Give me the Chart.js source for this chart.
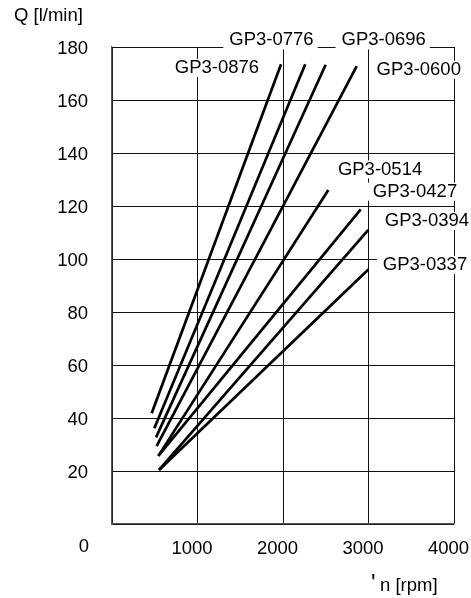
<!DOCTYPE html>
<html>
<head>
<meta charset="utf-8">
<script src="https://cdn.jsdelivr.net/npm/chart.js@4"></script>
<style>
  html, body { margin: 0; padding: 0; background: #fff; }
  #wrap { width: 471px; height: 598px; position: relative; }
</style>
</head>
<body>
<div id="wrap"><canvas id="pumpChart"></canvas></div>
<script>
// pump models, flow Q [l/min] against speed n [rpm]
const models = ["GP3-0876", "GP3-0776", "GP3-0696", "GP3-0600", "GP3-0514", "GP3-0427", "GP3-0394", "GP3-0337"];
const startRpm = [464, 495, 515, 522, 542, 542, 550, 550];
const startFlow = [41.8, 36.1, 32.7, 29.4, 25.7, 25.7, 20.4, 20.4];
const endRpm = [1977, 2260, 2499, 2862, 2530, 2909, 2998, 2998];
const endFlow = [173.5, 173.5, 173.3, 172.8, 126, 118.7, 111, 96];

const xTicks = [0, 1000, 2000, 3000, 4000];
const yTicks = [0, 20, 40, 60, 80, 100, 120, 140, 160, 180];

// where each model name sits, in chart units (rpm, l/min)
const nameAt = [
  [1228, 172.1], [1865, 182.5], [3178, 182.5], [3588, 171.4],
  [3135, 133.8], [3544, 125.4], [3684, 114.3], [3661, 97.7]
];

const FONT = "'Liberation Sans', Arial, Helvetica, sans-serif";

const datasets = models.map((name, i) => ({
  label: name,
  data: [
    { x: startRpm[i], y: startFlow[i] },
    { x: endRpm[i], y: endFlow[i] },
  ],
  borderColor: "#000",
  borderWidth: 2.7,
  pointRadius: 0,
  fill: false,
}));

// model names with white boxes behind them, plus axis titles
const labelsPlugin = {
  id: "modelLabels",
  afterDraw(chart) {
    const c = chart.ctx;
    const xs = chart.scales.x;
    const ys = chart.scales.y;
    c.save();
    c.font = "18.5px " + FONT;
    c.textBaseline = "middle";
    c.textAlign = "center";
    models.forEach((name, i) => {
      const px = xs.getPixelForValue(nameAt[i][0]);
      const py = ys.getPixelForValue(nameAt[i][1]);
      const w = c.measureText(name).width;
      c.fillStyle = "#fff";
      c.fillRect(px - w / 2 - 6, py - 9, w + 10, 18);
      c.fillStyle = "#000";
      c.fillText(name, px, py);
    });

    // shared origin label
    c.fillText("0", xs.getPixelForValue(0) - 28, 547);

    c.textAlign = "left";
    c.fillText("Q [l/min]", 14, 16);
    c.fillText("n [rpm]", 380, 586);
    c.textBaseline = "top";
    c.font = "24px " + FONT;
    c.fillText("'", 371, 572);
    c.restore();
  },
};

new Chart(document.getElementById("pumpChart"), {
  type: "line",
  data: { datasets },
  options: {
    responsive: true,
    maintainAspectRatio: false,
    animation: false,
    layout: { padding: { left: 0, right: 17, top: 47, bottom: 0 } },
    plugins: {
      legend: { display: false },
      tooltip: { enabled: false },
    },
    scales: {
      x: {
        type: "linear",
        min: xTicks[0],
        max: xTicks[xTicks.length - 1],
        afterBuildTicks: (s) => { s.ticks = xTicks.map((v) => ({ value: v })); },
        ticks: {
          color: "#000",
          font: { family: FONT, size: 18.5 },
          padding: 14,
          labelOffset: -5.5,
          maxRotation: 0,
          callback: (v) => (v === 0 ? "" : String(v)),
        },
        grid: { color: "#111", lineWidth: 1, drawTicks: false },
        border: { color: "#555", width: 1.3 },
        afterFit: (s) => { s.height = 74; s.paddingLeft = 0; s.paddingRight = 0; },
      },
      y: {
        type: "linear",
        min: yTicks[0],
        max: yTicks[yTicks.length - 1],
        afterBuildTicks: (s) => { s.ticks = yTicks.map((v) => ({ value: v })); },
        ticks: {
          color: "#000",
          font: { family: FONT, size: 18.5 },
          padding: 24,
          labelOffset: 2,
          callback: (v) => (v === 0 ? "" : String(v)),
        },
        grid: { color: "#111", lineWidth: 1, drawTicks: false },
        border: { color: "#555", width: 1.3 },
        afterFit: (s) => { s.width = 112; },
      },
    },
  },
  plugins: [labelsPlugin],
});
</script>
</body>
</html>
